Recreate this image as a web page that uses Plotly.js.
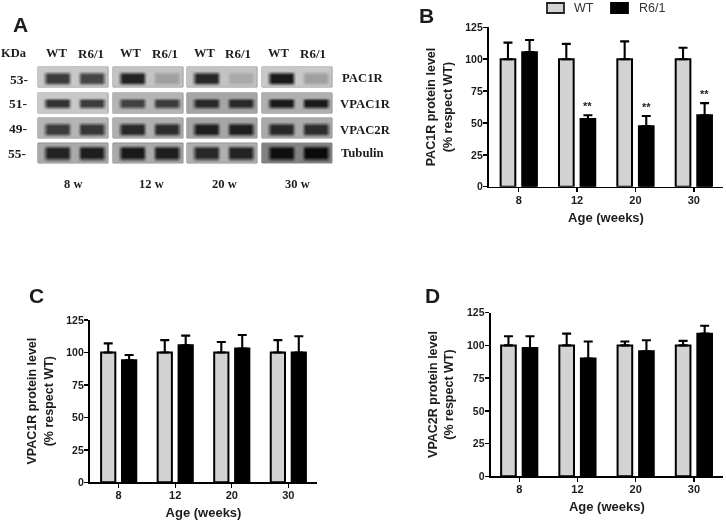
<!DOCTYPE html>
<html>
<head>
<meta charset="utf-8">
<script src="https://cdn.plot.ly/plotly-3.0.1.min.js"></script>
<style>
  html, body { margin: 0; padding: 0; background: #fff; }
  #chart { filter: blur(0.3px); }
</style>
</head>
<body>
<div id="chart" style="width:726px;height:522px;"></div>
<script>
const ages = ['8', '12', '20', '30'];
const wtValues = [100, 100, 100, 100];

// panel B
const pac1rR61 = [105.5, 53, 47.5, 56];
const pac1rWtErr = [13, 12, 14, 9];
const pac1rR61Err = [9.5, 3, 8, 9.5];
const pac1rStars = ['', '**', '**', '**'];

// panel C
const vpac1rR61 = [94, 105.5, 103, 100];
const vpac1rWtErr = [7, 9.5, 8, 9.5];
const vpac1rR61Err = [4, 7.5, 10.5, 12.5];

// panel D
const vpac2rR61 = [98, 90, 95.5, 109];
const vpac2rWtErr = [7, 9, 3, 3.5];
const vpac2rR61Err = [9, 13, 8.5, 6];

const yTicks = [0, 25, 50, 75, 100, 125];

// panel A, gray level of the bands [WT, R6/1] per age, 0 is black
const blotAges = ['8 w', '12 w', '20 w', '30 w'];
const blotRows = ['PAC1R', 'VPAC1R', 'VPAC2R', 'Tubulin'];
const blotKda = ['53-', '51-', '49-', '55-'];
const pac1rBands = [[60, 70], [35, 160], [40, 170], [25, 160]];
const vpac1rBands = [[50, 60], [65, 60], [40, 40], [25, 25]];
const vpac2rBands = [[60, 55], [40, 45], [30, 30], [40, 45]];
const tubulinBands = [[35, 30], [25, 30], [40, 35], [15, 10]];
const blotBackground = [
  [200, 195, 195, 200],
  [200, 180, 165, 175],
  [180, 175, 165, 170],
  [170, 170, 175, 130]
];

const W = 726, H = 522;
const textColor = '#1c1c1c';
const serif = '"Liberation Serif", "DejaVu Serif", serif';
const sans = '"Liberation Sans", Arial, sans-serif';

const blotCols = [38, 113, 187, 262];
const blotTops = [67, 93, 118, 143];
const blotCenters = [78, 103, 129, 153];
const blotHalf = [5.5, 4, 5.5, 6.5];
const allBands = [pac1rBands, vpac1rBands, vpac2rBands, tubulinBands];

const traces = [];
const shapes = [];

// one blurred heatmap per blot, drawn on the page sized axes
allBands.forEach(function(rowBands, r) {
  rowBands.forEach(function(lanes, c) {
    const left = blotCols[c];
    const bg = blotBackground[r][c];
    const l1 = left + 19, l2 = left + 53;
    const xs = [left + 1, l1 - 15, l1 - 10, l1 + 10, l1 + 14, (l1 + l2) / 2, l2 - 14, l2 - 10, l2 + 10, l2 + 15, left + 69];
    const bandRow = [bg, bg, lanes[0], lanes[0], bg, bg, bg, lanes[1], lanes[1], bg, bg];
    const h = blotHalf[r], cy = blotCenters[r];
    const ys = [blotTops[r] + 1, cy - h - 2, cy - h * 0.6, cy + h * 0.6, cy + h + 2, blotTops[r] + 19];
    const bgRow = xs.map(() => bg);
    const gray = 'rgb(' + bg + ',' + bg + ',' + bg + ')';
    shapes.push({
      type: 'rect', layer: 'below', xref: 'x4', yref: 'y4',
      x0: left, x1: left + 70, y0: blotTops[r], y1: blotTops[r] + 20,
      fillcolor: gray, line: { color: '#8a8a8a', width: 1 }
    });
    traces.push({
      type: 'heatmap',
      x: xs,
      y: ys,
      z: [bgRow, bgRow, bandRow, bandRow, bgRow, bgRow],
      zmin: 0,
      zmax: 255,
      zsmooth: 'best',
      colorscale: [[0, '#000000'], [1, '#ffffff']],
      showscale: false,
      hoverinfo: 'skip',
      xaxis: 'x4',
      yaxis: 'y4'
    });
  });
});

function addBars(r61, wtErr, r61Err, xa, ya) {
  traces.push({
    type: 'bar', name: 'WT', x: ages, y: wtValues,
    marker: { color: '#d3d3d3', line: { color: '#000', width: 2 } },
    error_y: { type: 'data', symmetric: false, array: wtErr, arrayminus: [0, 0, 0, 0], color: '#000', thickness: 2.1, width: 4.5 },
    xaxis: xa, yaxis: ya, showlegend: false
  });
  traces.push({
    type: 'bar', name: 'R6/1', x: ages, y: r61,
    marker: { color: '#000', line: { color: '#000', width: 2 } },
    error_y: { type: 'data', symmetric: false, array: r61Err, arrayminus: [0, 0, 0, 0], color: '#000', thickness: 2.1, width: 4.5 },
    xaxis: xa, yaxis: ya, showlegend: false
  });
}

addBars(pac1rR61, pac1rWtErr, pac1rR61Err, 'x', 'y');
addBars(vpac1rR61, vpac1rWtErr, vpac1rR61Err, 'x2', 'y2');
addBars(vpac2rR61, vpac2rWtErr, vpac2rR61Err, 'x3', 'y3');

function xAxis(left, right, range, anchor) {
  return {
    type: 'category',
    domain: [left / W, right / W],
    range: range,
    anchor: anchor,
    showgrid: false,
    zeroline: false,
    showline: true,
    linecolor: '#000',
    linewidth: 1.6,
    ticks: 'outside',
    ticklen: 4,
    tickwidth: 1.4,
    tickcolor: '#000',
    ticklabelstandoff: -2,
    tickfont: { family: sans, size: 11, color: textColor, weight: 'bold' },
    title: { text: 'Age (weeks)', font: { family: sans, size: 13, color: textColor, weight: 'bold' }, standoff: 8 }
  };
}

function yAxis(top, bottom, label, anchor) {
  return {
    domain: [1 - bottom / H, 1 - top / H],
    range: [0, 125],
    anchor: anchor,
    tickvals: yTicks,
    showgrid: false,
    zeroline: false,
    showline: true,
    linecolor: '#000',
    linewidth: 1.6,
    ticks: 'outside',
    ticklen: 4.5,
    tickwidth: 1.4,
    tickcolor: '#000',
    ticklabelstandoff: -2,
    tickfont: { family: sans, size: 10.5, color: textColor, weight: 'bold' },
    title: { text: label, font: { family: sans, size: 12.5, color: textColor, weight: 'bold' }, standoff: 10 }
  };
}

const annotations = [];
function pageText(x, y, text, size, family, bold, anchor, color) {
  annotations.push({
    xref: 'x4', yref: 'y4', x: x, y: y, text: text, showarrow: false,
    xanchor: anchor || 'center', yanchor: 'middle',
    font: { family: family, size: size, color: color || textColor, weight: bold ? 'bold' : 'normal' }
  });
}

pageText(20, 24, 'A', 21, sans, true);
pageText(426, 15, 'B', 21, sans, true);
pageText(36, 295, 'C', 21, sans, true);
pageText(432, 295, 'D', 21, sans, true);

// panel A labels
pageText(14, 53, 'KDa', 12.5, serif, true);
[57, 131, 205, 279].forEach((x) => pageText(x, 53, 'WT', 12.5, serif, true));
[91, 165, 238, 313].forEach((x) => pageText(x, 53, 'R6/1', 13, serif, true));
[19, 18, 17.5, 17].forEach((x, i) => pageText(x, [79, 103, 128, 153][i], blotKda[i], 13.5, serif, true));
[340, 338, 338, 339].forEach((x, i) => pageText(x, [78, 104, 130, 153][i], blotRows[i], 12.7, serif, true, 'left'));
[73, 151, 224, 297].forEach((x, i) => pageText(x, 184, blotAges[i], 12.5, serif, true));

// legend
pageText(572, 8, 'WT', 12.5, sans, false, 'left', '#333');
pageText(637, 8, 'R6/1', 12.5, sans, false, 'left', '#333');

// significance stars on panel B
pac1rStars.forEach(function(s, i) {
  if (!s) return;
  annotations.push({
    xref: 'x', yref: 'y', x: i + 0.185, y: pac1rR61[i] + pac1rR61Err[i] + 7,
    text: s, showarrow: false,
    font: { family: sans, size: 11, color: textColor, weight: 'bold' }
  });
});

shapes.push({ type: 'rect', xref: 'x4', yref: 'y4', x0: 547, x1: 564, y0: 3, y1: 13, fillcolor: '#d3d3d3', line: { color: '#222', width: 1.8 } });
shapes.push({ type: 'rect', xref: 'x4', yref: 'y4', x0: 611, x1: 628, y0: 3, y1: 13, fillcolor: '#000', line: { color: '#000', width: 1.8 } });

const layout = {
  width: W,
  height: H,
  margin: { l: 0, r: 0, t: 0, b: 0 },
  paper_bgcolor: '#fff',
  plot_bgcolor: 'rgba(0,0,0,0)',
  barmode: 'group',
  bargap: 0.26,
  bargroupgap: 0.32,
  showlegend: false,
  xaxis: xAxis(489, 723, [-0.51, 3.5], 'y'),
  yaxis: yAxis(27.3, 186.7, 'PAC1R protein level<br>(% respect WT)', 'x'),
  xaxis2: xAxis(90, 317, [-0.507, 3.507], 'y2'),
  yaxis2: yAxis(320, 482.3, 'VPAC1R protein level<br>(% respect WT)', 'x2'),
  xaxis3: xAxis(490.7, 723, [-0.49, 3.5], 'y3'),
  yaxis3: yAxis(312.7, 476.3, 'VPAC2R protein level<br>(% respect WT)', 'x3'),
  // page sized axes for the blots, labels and legend
  xaxis4: { domain: [0, 1], range: [0, W], visible: false, fixedrange: true, anchor: 'y4' },
  yaxis4: { domain: [0, 1], range: [H, 0], visible: false, fixedrange: true, anchor: 'x4' },
  annotations: annotations,
  shapes: shapes
};

Plotly.newPlot('chart', traces, layout, { displayModeBar: false, staticPlot: true });
</script>
</body>
</html>
